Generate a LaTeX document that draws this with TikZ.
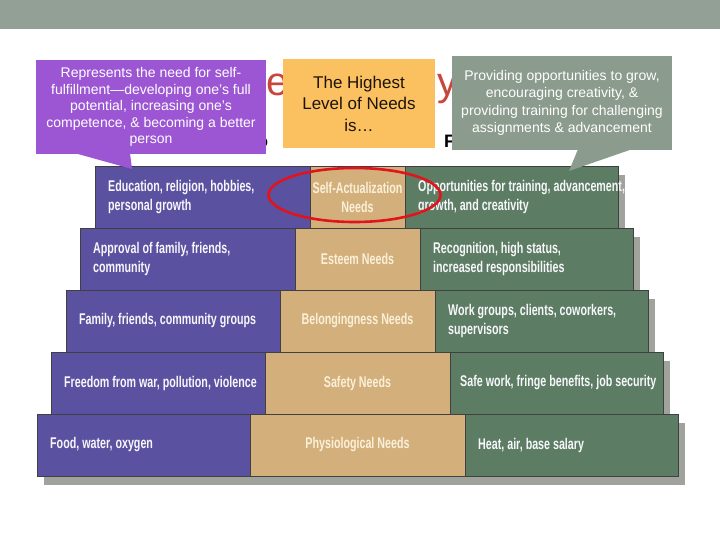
\documentclass[tikz,border=0pt]{standalone}
\usepackage{fontspec}
\setmainfont{Liberation Sans}
\newfontfamily\pyrfont[FakeStretch=0.69]{Liberation Sans Bold}
\usepackage{xcolor}
\usetikzlibrary{calc,positioning}

\definecolor{bandgray}{HTML}{93A096}
\definecolor{pyrpurple}{HTML}{5A51A0}
\definecolor{pyrtan}{HTML}{D3B07B}
\definecolor{pyrgreen}{HTML}{5C7D64}
\definecolor{shadegray}{HTML}{A0A29C}
\definecolor{needpurple}{HTML}{9C56D3}
\definecolor{topyellow}{HTML}{FBC160}
\definecolor{oppgray}{HTML}{8B9B8D}
\definecolor{titlered}{HTML}{C8463C}
\definecolor{ringred}{HTML}{E0141A}
\definecolor{tantext}{HTML}{FAF0DA}

\pgfdeclarelayer{bg}
\pgfsetlayers{bg,main}

\tikzset{
  seg/.style={ % one coloured block of a pyramid step
    draw=black!75, line width=0.5pt, rectangle,
    minimum height=62pt, inner sep=0pt, outer sep=0pt
  },
  segtxt/.style={ % white text inside a purple or green block
    font=\pyrfont\fontsize{15.5}{19}\selectfont, text=white!95!pyrpurple,
    align=left, inner sep=0pt
  },
  midtxt/.style={ % light text inside a tan block
    font=\pyrfont\fontsize{15.5}{19}\selectfont, text=tantext, align=center
  },
  callout/.style={ % a text box over the slide
    rectangle, inner sep=0pt, align=center
  },
  ring/.style={
    draw=ringred, line width=2.6pt
  },
  fragment/.style={ % left-over letters of the slide title
    inner sep=0pt, anchor=base west
  }
}

\begin{document}
\begin{tikzpicture}[x=1pt, y=-1pt]
  \useasboundingbox (0,0) rectangle (720,540);
  \fill[bandgray] (0,0) rectangle (720,29);

  % title pieces, mostly hidden by the callouts
  \node[fragment, text=titlered, font=\fontsize{40}{40}\selectfont] (t-e) at (266,96) {e};
  \node[fragment, text=titlered, font=\fontsize{40}{40}\selectfont] (t-y) at (437,96) {y};
  \node[fragment, font=\bfseries\fontsize{18}{18}\selectfont] (t-f) at (444,148) {F};
  \node[fragment, font=\bfseries\fontsize{18}{18}\selectfont] (t-o) at (257,148) {o};

  % step 1 (top)
  \node[seg, fill=pyrpurple, minimum width=215pt, anchor=north west] (edu) at (95,166) {};
  \node[seg, fill=pyrtan, minimum width=95pt, right=0pt of edu, midtxt] (sa) {Self-Actualization\\Needs};
  \node[seg, fill=pyrgreen, minimum width=213pt, right=0pt of sa] (opp) {};
  \node[segtxt, right=13pt of edu.west] (edu-t) {Education, religion, hobbies,\\personal growth};
  \node[segtxt, right=13pt of opp.west] (opp-t) {Opportunities for training, advancement,\\growth, and creativity};

  % step 2
  \node[seg, fill=pyrpurple, minimum width=215pt, anchor=north west] (appr) at (80,228) {};
  \node[seg, fill=pyrtan, minimum width=125pt, right=0pt of appr, midtxt] (est) {Esteem Needs};
  \node[seg, fill=pyrgreen, minimum width=213pt, right=0pt of est] (recog) {};
  \node[segtxt, right=13pt of appr.west] (appr-t) {Approval of family, friends,\\community};
  \node[segtxt, right=13pt of recog.west] (recog-t) {Recognition, high status,\\increased responsibilities};

  % step 3
  \node[seg, fill=pyrpurple, minimum width=214pt, anchor=north west] (fam) at (66,290) {};
  \node[seg, fill=pyrtan, minimum width=155pt, right=0pt of fam, midtxt] (bel) {Belongingness Needs};
  \node[seg, fill=pyrgreen, minimum width=213pt, right=0pt of bel] (work) {};
  \node[segtxt, right=13pt of fam.west] (fam-t) {Family, friends, community groups};
  \node[segtxt, right=13pt of work.west] (work-t) {Work groups, clients, coworkers,\\supervisors};

  % step 4
  \node[seg, fill=pyrpurple, minimum width=214pt, anchor=north west] (free) at (51,352) {};
  \node[seg, fill=pyrtan, minimum width=185pt, right=0pt of free, midtxt] (saf) {Safety Needs};
  \node[seg, fill=pyrgreen, minimum width=213pt, right=0pt of saf] (safe) {};
  \node[segtxt, right=13pt of free.west] (free-t) {Freedom from war, pollution, violence};
  \node[segtxt, right=10pt of safe.west] (safe-t) {Safe work, fringe benefits, job security};

  % step 5 (base)
  \node[seg, fill=pyrpurple, minimum width=213pt, anchor=north west] (food) at (37,414) {};
  \node[seg, fill=pyrtan, minimum width=215pt, right=0pt of food, midtxt] (phys) {Physiological Needs};
  \node[seg, fill=pyrgreen, minimum width=213pt, right=0pt of phys] (heat) {};
  \node[segtxt, right=13pt of food.west] (food-t) {Food, water, oxygen};
  \node[segtxt, right=13pt of heat.west] (heat-t) {Heat, air, base salary};

  % shadows of the steps
  \begin{pgfonlayer}{bg}
    \fill[shadegray] ($(edu.north west)+(7,9)$) rectangle ($(opp.south east)+(7,9)$);
    \fill[shadegray] ($(appr.north west)+(7,9)$) rectangle ($(recog.south east)+(7,9)$);
    \fill[shadegray] ($(fam.north west)+(7,9)$) rectangle ($(work.south east)+(7,9)$);
    \fill[shadegray] ($(free.north west)+(7,9)$) rectangle ($(safe.south east)+(7,9)$);
    \fill[shadegray] ($(food.north west)+(7,9)$) rectangle ($(heat.south east)+(7,9)$);
  \end{pgfonlayer}

  \draw[ring] ($(sa.center)+(-3,-2)$) ellipse [x radius=86, y radius=27];

  % callouts
  \node[callout, fill=needpurple, minimum width=230pt, minimum height=94pt, text=white,
        font=\fontsize{14}{16.5}\selectfont] (need) at (151,107)
    {Represents the need for self-\\fulfillment—developing one's full\\potential, increasing one's\\competence, \& becoming a better\\person};
  \coordinate (need-tip) at (132,169);
  \fill[needpurple] ($(need.south)+(-76,-1)$) -- ($(need.south)+(-21,-1)$) -- (need-tip) -- cycle;

  \node[callout, fill=topyellow, minimum width=152pt, minimum height=89pt, text=black!85!brown,
        font=\fontsize{17}{21.5}\selectfont] (top) at (359,103.5)
    {The Highest\\Level of Needs\\is…};

  \node[callout, fill=oppgray, minimum width=220pt, minimum height=94pt, text=white,
        font=\fontsize{14}{17.3}\selectfont] (grow) at (562,103)
    {Providing opportunities to grow,\\encouraging creativity, \&\\providing training for challenging\\assignments \& advancement};
  \coordinate (grow-tip) at (569,171);
  \fill[oppgray] ($(grow.south)+(16,-1)$) -- ($(grow.south)+(70,-1)$) -- (grow-tip) -- cycle;
\end{tikzpicture}
\end{document}
